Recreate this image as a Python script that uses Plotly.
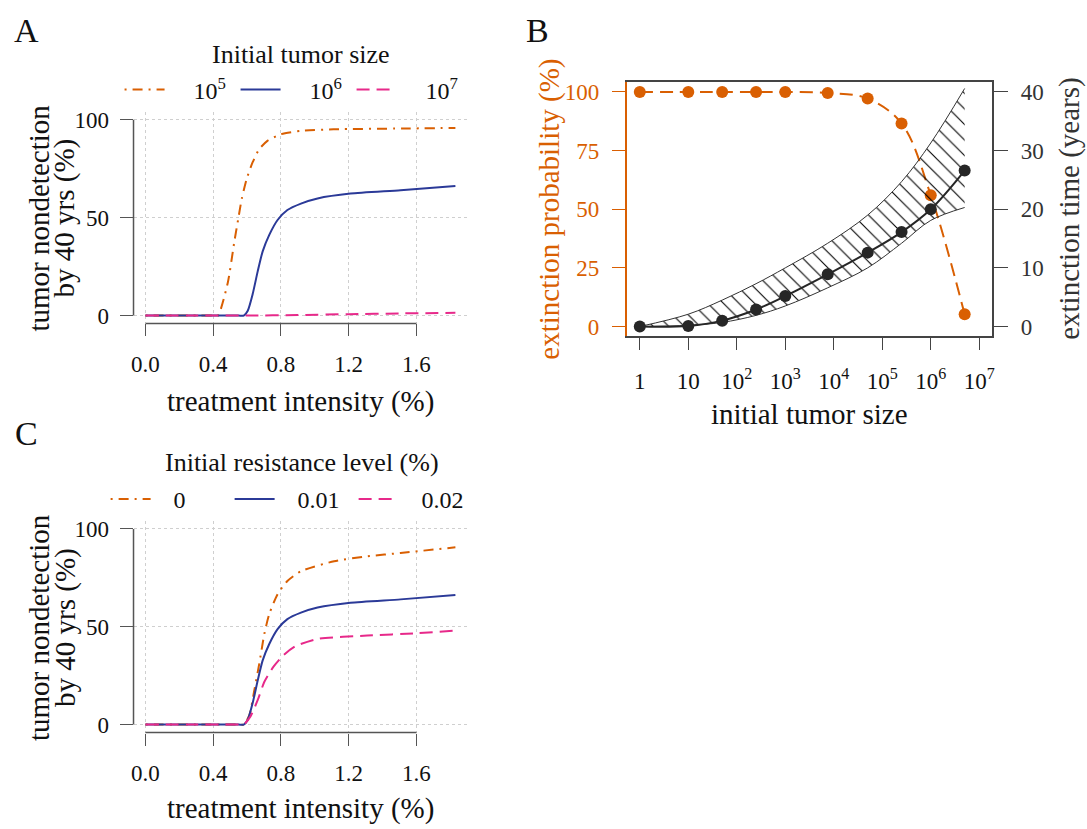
import plotly.graph_objects as go

W, H = 1087, 829
FONT = "Liberation Serif"
ORANGE = "#D95F02"
BLUE = "#2B3A98"
PINK = "#E7298A"
DARK = "#262626"
AXC = "#555555"

# ---------------- Panel A data: nondetection vs treatment intensity, by initial tumor size
a_x_1e5 = [0.0, 0.3, 0.40, 0.428, 0.486, 0.525, 0.55, 0.569, 0.598, 0.633, 0.672, 0.72, 0.80, 0.918, 1.11, 1.51, 1.83]
a_y_1e5 = [0.0, 0.0, 0.0, 0.0, 16.8, 37.9, 50.5, 59.8, 69.9, 78.3, 85.0, 89.2, 92.6, 94.3, 95.1, 95.5, 95.8]
a_x_1e6 = [0.0, 0.3, 0.55, 0.58, 0.604, 0.633, 0.663, 0.692, 0.731, 0.78, 0.838, 0.918, 1.016, 1.21, 1.506, 1.83]
a_y_1e6 = [0.0, 0.0, 0.0, 0.0, 2.5, 11.0, 22.7, 32.8, 41.2, 48.8, 53.9, 57.2, 59.8, 62.3, 64.0, 66.2]
a_x_1e7 = [0.0, 0.3, 0.6, 0.9, 1.2, 1.5, 1.83]
a_y_1e7 = [0.0, 0.0, 0.0, 0.3, 0.7, 1.1, 1.4]

# ---------------- Panel B data
b_size = [1, 10, 50, 250, 1000, 7500, 50000, 250000, 1000000, 5000000]
b_ext_prob = [100, 100, 100, 100, 100, 99.6, 97.2, 86.6, 56.0, 5.2]
b_ext_time = [0.0, 0.1, 1.0, 2.9, 5.2, 8.9, 12.6, 16.1, 20.0, 26.6]
b_time_low = [0.0, 0.2, 0.7, 1.9, 3.5, 6.6, 10.0, 14.2, 18.1, 20.3]
b_time_high = [0.0, 2.1, 4.5, 7.3, 10.0, 14.2, 19.0, 24.7, 31.3, 40.6]
b_tickvals = [1, 10, 100, 1000, 10000, 100000, 1000000, 10000000]
b_ticktext = ["1", "10", "10<sup>2</sup>", "10<sup>3</sup>", "10<sup>4</sup>",
              "10<sup>5</sup>", "10<sup>6</sup>", "10<sup>7</sup>"]

# ---------------- Panel C data: by initial resistance level
c_x_0 = [0.0, 0.3, 0.55, 0.58, 0.614, 0.643, 0.672, 0.702, 0.731, 0.78, 0.838, 0.918, 1.114, 1.31, 1.506, 1.83]
c_y_0 = [0.0, 0.0, 0.0, 0.0, 5.0, 17.7, 31.2, 46.4, 56.5, 66.6, 73.4, 78.4, 83.5, 86.0, 87.7, 90.6]
c_x_001 = a_x_1e6
c_y_001 = a_y_1e6
c_x_002 = [0.0, 0.3, 0.55, 0.58, 0.62, 0.663, 0.702, 0.755, 0.814, 0.884, 1.016, 1.31, 1.604, 1.83]
c_y_002 = [0.0, 0.0, 0.0, 0.0, 4.2, 12.6, 21.9, 29.5, 35.4, 40.0, 43.8, 45.5, 46.7, 48.1]

A_legend = ["10<sup>5</sup>", "10<sup>6</sup>", "10<sup>7</sup>"]
C_legend = ["0", "0.01", "0.02"]

DASHDOT = "2px,6px,10px,6px"
DASH = "13px,7px"
NB = "\u00a0"

fig = go.Figure()

# Panel A
for xs, ys, col, dash, name in [
    (a_x_1e5, a_y_1e5, ORANGE, DASHDOT, A_legend[0]),
    (a_x_1e6, a_y_1e6, BLUE, "solid", A_legend[1]),
    (a_x_1e7, a_y_1e7, PINK, DASH, A_legend[2]),
]:
    fig.add_trace(go.Scatter(x=xs, y=ys, mode="lines", name=NB * 4 + name,
                             line=dict(color=col, width=2, dash=dash, shape="spline", smoothing=0.6),
                             xaxis="x", yaxis="y", legend="legend"))

# Panel C
for xs, ys, col, dash, name in [
    (c_x_0, c_y_0, ORANGE, DASHDOT, C_legend[0]),
    (c_x_001, c_y_001, BLUE, "solid", C_legend[1]),
    (c_x_002, c_y_002, PINK, DASH, C_legend[2]),
]:
    fig.add_trace(go.Scatter(x=xs, y=ys, mode="lines", name=NB * 3 + name,
                             line=dict(color=col, width=2, dash=dash, shape="spline", smoothing=0.6),
                             xaxis="x4", yaxis="y4", legend="legend2"))

# Panel B: hatched band (years, right axis)
fig.add_trace(go.Scatter(x=b_size, y=b_time_low, mode="lines", line=dict(color="#333", width=1, shape="spline"),
                         xaxis="x2", yaxis="y3", showlegend=False))
fig.add_trace(go.Scatter(x=b_size, y=b_time_high, mode="lines", line=dict(color="#333", width=1, shape="spline"),
                         fill="tonexty", fillcolor="rgba(0,0,0,0)",
                         fillpattern=dict(shape="\\", size=11, solidity=0.1, fgcolor="#000",
                                          fgopacity=1, bgcolor="rgba(0,0,0,0)"),
                         xaxis="x2", yaxis="y3", showlegend=False))
fig.add_trace(go.Scatter(x=b_size, y=b_ext_time, mode="lines+markers",
                         line=dict(color=DARK, width=2, shape="spline"),
                         marker=dict(color=DARK, size=12),
                         xaxis="x2", yaxis="y3", showlegend=False))
fig.add_trace(go.Scatter(x=b_size, y=b_ext_prob, mode="lines+markers",
                         line=dict(color=ORANGE, width=2, dash=DASH, shape="spline"),
                         marker=dict(color=ORANGE, size=12),
                         xaxis="x2", yaxis="y2", showlegend=False))


def px_x(p):
    return p / W


def px_y(p):
    return 1 - p / H


tickfont = dict(family=FONT, size=23, color="#111")

common_x = dict(showline=False, zeroline=False, ticks="outside", ticklen=12, tickwidth=1,
                tickcolor=AXC, tickfont=tickfont, showgrid=True, gridcolor="#cfcfcf",
                griddash="dot", gridwidth=1, ticklabelstandoff=8)
common_y = dict(showline=False, zeroline=False, ticks="outside", ticklen=13, tickwidth=1,
                tickcolor=AXC, tickfont=tickfont, showgrid=True, gridcolor="#cfcfcf",
                griddash="dot", gridwidth=1, ticklabelstandoff=6)

fig.update_layout(
    width=W, height=H, margin=dict(l=0, r=0, t=0, b=0),
    paper_bgcolor="white", plot_bgcolor="white",
    font=dict(family=FONT, size=23, color="#111"),
    xaxis=dict(domain=[px_x(132), px_x(468)], range=[-0.0706, 1.906], anchor="y",
               tickvals=[0, 0.4, 0.8, 1.2, 1.6], ticktext=["0.0", "0.4", "0.8", "1.2", "1.6"], **common_x),
    yaxis=dict(domain=[px_y(323), px_y(109)], range=[-4.04, 104.04], anchor="x",
               tickvals=[0, 50, 100], **common_y),
    xaxis4=dict(domain=[px_x(132), px_x(468)], range=[-0.0706, 1.906], anchor="y4",
                tickvals=[0, 0.4, 0.8, 1.2, 1.6], ticktext=["0.0", "0.4", "0.8", "1.2", "1.6"], **common_x),
    yaxis4=dict(domain=[px_y(736.5), px_y(522.7)], range=[-4.04, 104.04], anchor="x4",
                tickvals=[0, 50, 100], **common_y),
    xaxis2=dict(domain=[px_x(627), px_x(994)], type="log", range=[-0.27, 7.27], anchor="y2",
                tickvals=b_tickvals, ticktext=b_ticktext, showgrid=False, zeroline=False,
                showline=True, mirror=True, linecolor="#444", linewidth=1.5,
                ticks="outside", ticklen=12, tickcolor="#444", tickfont=tickfont, ticklabelstandoff=11),
    yaxis2=dict(domain=[px_y(336), px_y(79)], range=[-4.2, 104.2], anchor="x2",
                tickvals=[0, 25, 50, 75, 100], showgrid=False, zeroline=False,
                showline=True, linecolor=ORANGE, linewidth=1.5,
                ticks="outside", ticklen=13, tickcolor=ORANGE,
                tickfont=dict(family=FONT, size=23, color=ORANGE), ticklabelstandoff=8),
    yaxis3=dict(domain=[px_y(336), px_y(79)], range=[-1.68, 41.68], anchor="x2", overlaying="y2",
                side="right", tickvals=[0, 10, 20, 30, 40], showgrid=False, zeroline=False,
                showline=True, linecolor="#444", linewidth=1.5,
                ticks="outside", ticklen=14, tickcolor="#444",
                tickfont=dict(family=FONT, size=23, color="#333"), ticklabelstandoff=8),
    legend=dict(orientation="h", x=px_x(118), y=px_y(64), xanchor="left", yanchor="top",
                font=dict(family=FONT, size=24, color="#111"), entrywidth=61, entrywidthmode="pixels",
                itemwidth=40, bgcolor="rgba(0,0,0,0)", tracegroupgap=0, traceorder="normal"),
    legend2=dict(orientation="h", x=px_x(104), y=px_y(478), xanchor="left", yanchor="top",
                 font=dict(family=FONT, size=24, color="#111"), entrywidth=69, entrywidthmode="pixels",
                 itemwidth=40, bgcolor="rgba(0,0,0,0)", tracegroupgap=0, traceorder="normal"),
)

# R-style detached axis lines for panels A and C
for xr, yr in [("x", "y"), ("x4", "y4")]:
    fig.add_shape(type="line", xref=xr, x0=0, x1=1.6, yref=f"{yr} domain", y0=0, y1=0,
                  line=dict(color=AXC, width=1.5))
    fig.add_shape(type="line", xref=f"{xr} domain", x0=0, x1=0, yref=yr, y0=0, y1=100,
                  line=dict(color=AXC, width=1.5))

ann = []


def add_text(x, y, text, size, color="#111", angle=0):
    ann.append(dict(x=px_x(x), y=px_y(y), xref="paper", yref="paper", text=text, showarrow=False,
                    font=dict(family=FONT, size=size, color=color), textangle=angle,
                    xanchor="center", yanchor="middle"))


add_text(25, 27, "A", 34)
add_text(537, 27, "B", 34)
add_text(25, 434, "C", 34)
add_text(300, 51, "Initial tumor size", 26)
add_text(301, 464, "Initial resistance level (%)", 26)
add_text(300, 402, "treatment intensity (%)", 29)
add_text(300, 813, "treatment intensity (%)", 29)
add_text(37, 216, "tumor nondetection", 29, angle=-90)
add_text(63, 216, "by 40 yrs (%)", 29, angle=-90)
add_text(37, 630, "tumor nondetection", 29, angle=-90)
add_text(63, 630, "by 40 yrs (%)", 29, angle=-90)
add_text(810, 414, "initial tumor size", 29)
add_text(550, 207, "extinction probability (%)", 29, color=ORANGE, angle=-90)
add_text(1072, 207, "extinction time (years)", 29, color="#333", angle=-90)
fig.update_layout(annotations=ann)

fig.write_html("out.html")
